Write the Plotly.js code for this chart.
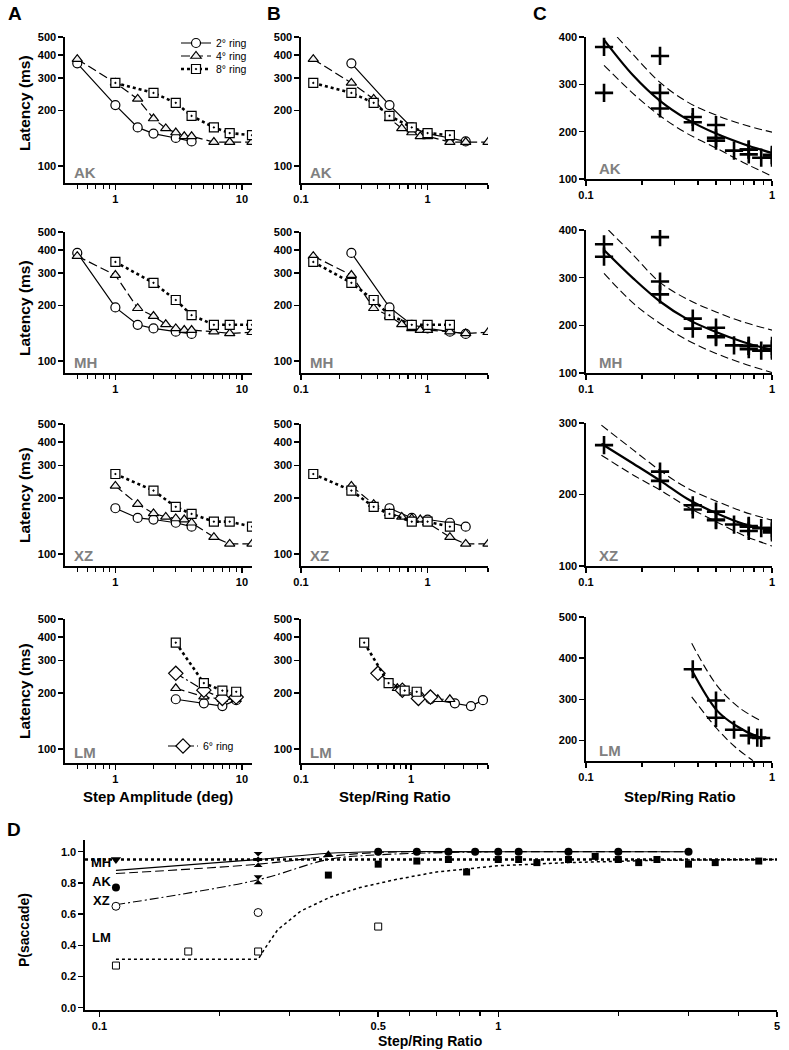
<!DOCTYPE html>
<html>
<head>
<meta charset="utf-8">
<script src="https://cdn.plot.ly/plotly-3.0.1.min.js"></script>
<style>
  body { margin: 0; background: #fff; }
  #plot { width: 789px; height: 1050px; }
</style>
</head>
<body>
<div id="plot"></div>
<script>
// ---- values ----
// latency (ms) against step amplitude (deg), one pair of arrays per ring size
const ak_amp2 = [0.5, 1, 1.5, 2, 3, 4];
const ak_lat2 = [360, 214, 162, 150, 142, 136];
const ak_amp4 = [0.5, 1, 1.5, 2, 2.5, 3, 3.5, 4, 6, 8, 12];
const ak_lat4 = [379, 282, 231, 181, 160, 152, 145, 145, 135, 135, 135];
const ak_amp8 = [1, 2, 3, 4, 6, 8, 12];
const ak_lat8 = [282, 249, 220, 187, 162, 151, 147];

const mh_amp2 = [0.5, 1, 1.5, 2, 3, 4];
const mh_lat2 = [385, 195, 157, 150, 144, 140];
const mh_amp4 = [0.5, 1, 1.5, 2, 2.5, 3, 3.5, 4, 6, 8, 12];
const mh_lat4 = [370, 292, 193, 175, 158, 150, 147, 147, 144, 141, 143];
const mh_amp8 = [1, 2, 3, 4, 6, 8, 12];
const mh_lat8 = [344, 265, 214, 177, 157, 157, 157];

const xz_amp2 = [1, 1.5, 2, 3, 4];
const xz_lat2 = [176, 156, 153, 147, 140];
const xz_amp4 = [1, 1.5, 2, 2.5, 3, 3.5, 4, 6, 8, 12];
const xz_lat4 = [232, 185, 165, 158, 155, 153, 147, 123, 113, 113];
const xz_amp8 = [1, 2, 3, 4, 6, 8, 12];
const xz_lat8 = [269, 219, 179, 164, 149, 149, 140];

const lm_amp = [3, 5, 7, 9];
const lm_lat2 = [185, 176, 170, 183];
const lm_lat4 = [212, 191, 185, 185];
const lm_lat6 = [255, 207, 187, 190];
const lm_lat8 = [373, 226, 206, 203];
// one more LM point that only shows in panel C
const lm_extra_r = [0.5];
const lm_extra_lat = [297];

// panel C: fitted curve and dashed bounds (step/ring ratio, latency)
const ak_fit_r = [0.125, 0.18, 0.25, 0.35, 0.5, 0.7, 1];
const ak_fit = [394, 318, 265, 226, 196, 174, 155];
const ak_hi_r = [0.147, 0.18, 0.25, 0.35, 0.5, 0.7, 1];
const ak_hi = [400, 362, 304, 263, 235, 215, 199];
const ak_lo_r = [0.125, 0.187, 0.255, 0.35, 0.51, 0.7, 1];
const ak_lo = [340, 274, 231, 196, 164, 135, 106];

const mh_fit_r = [0.125, 0.18, 0.25, 0.35, 0.5, 0.7, 1];
const mh_fit = [358, 298, 250, 213, 186, 165, 148];
const mh_hi_r = [0.132, 0.18, 0.25, 0.35, 0.5, 0.7, 1];
const mh_hi = [400, 347, 290, 255, 228, 207, 190];
const mh_lo_r = [0.125, 0.18, 0.25, 0.35, 0.5, 0.7, 1];
const mh_lo = [309, 246, 204, 169, 141, 120, 101];

const xz_fit_r = [0.121, 0.18, 0.255, 0.35, 0.51, 0.7, 1];
const xz_fit = [271, 243, 218, 194, 173, 159, 150];
const xz_hi = [297, 262, 232, 209, 190, 176, 164];
const xz_lo = [255, 227, 205, 183, 161, 143, 128];

const lm_fit_r = [0.37, 0.505, 0.634, 0.847, 0.92];
const lm_fit = [371, 273, 237, 208, 204];
const lm_hi_r = [0.37, 0.505, 0.66, 0.86];
const lm_hi = [436, 334, 281, 249];
const lm_lo_r = [0.37, 0.505, 0.634, 0.79];
const lm_lo = [306, 229, 184, 151];

// panel D: P(saccade) against step/ring ratio
const d_tridown_r = [0.11];
const d_tridown_p = [0.95];
const d_triup_r = [0.375];
const d_triup_p = [0.98];
const d_hour_r = [0.25, 0.25, 0.25];
const d_hour_p = [0.97, 0.93, 0.82];
const d_fcirc_r = [0.11, 0.5, 0.625, 0.75, 0.875, 1, 1.125, 1.5, 2, 3];
const d_fcirc_p = [0.77, 1, 1, 1, 1, 1, 1, 1, 1, 1];
const d_ocirc_r = [0.11, 0.25];
const d_ocirc_p = [0.65, 0.61];
const d_osq_r = [0.11, 0.167, 0.25, 0.5];
const d_osq_p = [0.27, 0.36, 0.36, 0.52];
const d_fsq_r = [0.375, 0.5, 0.625, 0.75, 0.833, 1, 1.125, 1.25, 1.5, 1.75, 2, 2.25, 2.5, 3, 3.5, 4.5];
const d_fsq_p = [0.85, 0.92, 0.94, 0.95, 0.87, 0.95, 0.95, 0.93, 0.95, 0.97, 0.95, 0.93, 0.95, 0.92, 0.93, 0.94];

const d_solid_r = [0.11, 0.25, 0.375, 0.5, 1, 3];
const d_solid_p = [0.88, 0.95, 0.99, 1.0, 1.0, 1.0];
const d_dash_r = [0.11, 0.25, 0.375, 0.5, 1, 3];
const d_dash_p = [0.86, 0.92, 0.97, 0.995, 1.0, 1.0];
const d_dashdot_r = [0.11, 0.25, 0.375, 0.5, 1];
const d_dashdot_p = [0.66, 0.82, 0.95, 0.98, 1.0];
const d_dot_r = [0.11, 0.25, 0.26, 0.28, 0.32, 0.38, 0.45, 0.55, 0.7, 1, 1.5, 2.5, 5];
const d_dot_p = [0.31, 0.31, 0.38, 0.5, 0.62, 0.71, 0.77, 0.82, 0.87, 0.91, 0.93, 0.945, 0.95];
const chance_level = 0.95;

const subject_names = ["AK", "MH", "XZ", "LM"];

// ---- layout geometry (pixels) ----
const W = 789, H = 1050;
const FONT = "Liberation Sans, Arial, sans-serif";
const COL_A = [65, 252], COL_B = [301, 488], COL_C = [586, 772];
const ROWS_AB = [[37, 183], [232, 373], [424, 566], [619, 763]];
const ROWS_C = [[37, 179], [230, 373], [423, 566], [617, 761]];
const AB_LOW = [81, 86, 86, 84];
const C_RANGES = [[100, 400], [100, 400], [100, 300], [150, 500]];
const C_TICKS = [[100, 200, 300, 400], [100, 200, 300, 400], [100, 200, 300], [200, 300, 400, 500]];

const xdom = p => [p[0] / W, p[1] / W];
const ydom = p => [1 - p[1] / H, 1 - p[0] / H];
const sfx = i => (i === 1 ? "" : String(i));

const subjects = [
    { rings: [[2, ak_amp2, ak_lat2], [4, ak_amp4, ak_lat4], [8, ak_amp8, ak_lat8]],
      fit: [ak_fit_r, ak_fit], hi: [ak_hi_r, ak_hi], lo: [ak_lo_r, ak_lo], extra: [[], []] },
    { rings: [[2, mh_amp2, mh_lat2], [4, mh_amp4, mh_lat4], [8, mh_amp8, mh_lat8]],
      fit: [mh_fit_r, mh_fit], hi: [mh_hi_r, mh_hi], lo: [mh_lo_r, mh_lo], extra: [[], []] },
    { rings: [[2, xz_amp2, xz_lat2], [4, xz_amp4, xz_lat4], [8, xz_amp8, xz_lat8]],
      fit: [xz_fit_r, xz_fit], hi: [xz_fit_r, xz_hi], lo: [xz_fit_r, xz_lo], extra: [[], []] },
    { rings: [[2, lm_amp, lm_lat2], [4, lm_amp, lm_lat4], [6, lm_amp, lm_lat6], [8, lm_amp, lm_lat8]],
      fit: [lm_fit_r, lm_fit], hi: [lm_hi_r, lm_hi], lo: [lm_lo_r, lm_lo], extra: [lm_extra_r, lm_extra_lat] }
];

const ringStyle = {
    2: { line: { color: "#000", width: 1.2 },
         marker: { symbol: "circle", size: 9, color: "#fff", line: { color: "#000", width: 1.2 } } },
    4: { line: { color: "#000", width: 1.2, dash: "9px,4px" },
         marker: { symbol: "triangle-up", size: 9, color: "#f2f2f2", line: { color: "#000", width: 1.2 } } },
    6: { line: { color: "#000", width: 1.2, dash: "9px,3px,2px,3px" },
         marker: { symbol: "diamond", size: 11, color: "#fff", line: { color: "#000", width: 1.2 } } },
    8: { line: { color: "#000", width: 2.6, dash: "dot" },
         marker: { symbol: "square-dot", size: 9, color: "#fff", line: { color: "#000", width: 1.2 } } }
};
// each legend entry gets its own small legend so the rows sit as close as in the figure
const ringLegend = { 2: "legend", 4: "legend3", 8: "legend4", 6: "legend2" };

const crossMarker = { symbol: "cross-thin", size: 13, line: { color: "#000", width: 2.6 } };

const legendAt = (px, py) => ({ x: px / W, y: 1 - py / H, xanchor: "left", yanchor: "middle",
    font: { family: FONT, size: 10.5, color: "#000" }, bgcolor: "rgba(0,0,0,0)", borderwidth: 0 });

let data = [];
let layout = {
    width: W, height: H,
    margin: { l: 0, r: 0, t: 0, b: 0 },
    paper_bgcolor: "#fff", plot_bgcolor: "rgba(0,0,0,0)",
    font: { family: FONT, color: "#000" },
    showlegend: true,
    legend: legendAt(176, 43),
    legend3: legendAt(176, 56),
    legend4: legendAt(176, 69),
    legend2: legendAt(163, 746),
    annotations: [],
    shapes: []
};

const axisBase = () => ({
    showline: true, linecolor: "#000", linewidth: 1.6,
    ticks: "outside", ticklen: 5, tickwidth: 1.4, tickcolor: "#000",
    showgrid: false, zeroline: false, fixedrange: true,
    tickfont: { family: FONT, size: 11, color: "#000", weight: "bold" }
});
const minorTicks = vals => ({ tickmode: "array", tickvals: vals, ticks: "outside", ticklen: 4, tickwidth: 1.2, tickcolor: "#000" });

const logX = (dom, lo, hi, major, labels, minor) => Object.assign(axisBase(), {
    type: "log", domain: dom, range: [Math.log10(lo), Math.log10(hi)],
    tickmode: "array", tickvals: major, ticktext: labels, minor: minorTicks(minor)
});

subjects.forEach((s, row) => {
    const ia = row * 3 + 1, ib = ia + 1, ic = ia + 2;
    const cx = s.extra[0].slice(), cy = s.extra[1].slice();

    s.rings.forEach(([ring, amp, lat]) => {
        const st = ringStyle[ring];
        const ratio = amp.map(a => a / ring);
        const inLegend = (row === 0 && ring !== 6) || ring === 6;
        data.push({
            x: amp, y: lat, xaxis: "x" + sfx(ia), yaxis: "y" + sfx(ia),
            mode: "lines+markers", name: ring + "° ring", line: st.line, marker: st.marker,
            showlegend: inLegend, legend: ringLegend[ring], hoverinfo: "skip"
        });
        data.push({
            x: ratio, y: lat, xaxis: "x" + sfx(ib), yaxis: "y" + sfx(ib),
            mode: "lines+markers", line: st.line, marker: st.marker, showlegend: false, hoverinfo: "skip"
        });
        ratio.forEach((r, i) => { if (r <= 1) { cx.push(r); cy.push(lat[i]); } });
    });

    [[s.hi, { color: "#000", width: 1.1, dash: "8px,4px" }],
     [s.lo, { color: "#000", width: 1.1, dash: "8px,4px" }],
     [s.fit, { color: "#000", width: 2.2 }]].forEach(([c, ln]) => {
        data.push({ x: c[0], y: c[1], xaxis: "x" + sfx(ic), yaxis: "y" + sfx(ic), mode: "lines",
                    line: Object.assign({ shape: "spline", smoothing: 1 }, ln), showlegend: false, hoverinfo: "skip" });
    });
    data.push({ x: cx, y: cy, xaxis: "x" + sfx(ic), yaxis: "y" + sfx(ic), mode: "markers",
                marker: crossMarker, showlegend: false, hoverinfo: "skip" });

    // axes
    const abY = Object.assign(axisBase(), {
        type: "log", range: [Math.log10(AB_LOW[row]), Math.log10(500)],
        tickmode: "array", tickvals: [100, 200, 300, 400, 500], ticktext: ["100", "200", "300", "400", "500"]
    });
    layout["xaxis" + sfx(ia)] = logX(xdom(COL_A), 0.4, 12, [1, 10], ["1", "10"],
        [0.5, 0.6, 0.7, 0.8, 0.9, 2, 3, 4, 5, 6, 7, 8, 9]);
    layout["xaxis" + sfx(ia)].anchor = "y" + sfx(ia);
    layout["yaxis" + sfx(ia)] = Object.assign({}, abY, { domain: ydom(ROWS_AB[row]), anchor: "x" + sfx(ia) });

    const bHi = row === 3 ? 5 : 3;
    const bMinor = [0.2, 0.3, 0.4, 0.5, 0.6, 0.7, 0.8, 0.9, 2, 3].concat(row === 3 ? [4, 5] : []);
    layout["xaxis" + sfx(ib)] = logX(xdom(COL_B), 0.1, bHi, [0.1, 1], ["0.1", "1"], bMinor);
    layout["xaxis" + sfx(ib)].anchor = "y" + sfx(ib);
    layout["yaxis" + sfx(ib)] = Object.assign({}, abY, { domain: ydom(ROWS_AB[row]), anchor: "x" + sfx(ib) });

    layout["xaxis" + sfx(ic)] = logX(xdom(COL_C), 0.1, 1, [0.1, 1], ["0.1", "1"],
        [0.2, 0.3, 0.4, 0.5, 0.6, 0.7, 0.8, 0.9]);
    layout["xaxis" + sfx(ic)].anchor = "y" + sfx(ic);
    layout["yaxis" + sfx(ic)] = Object.assign(axisBase(), {
        domain: ydom(ROWS_C[row]), range: C_RANGES[row], anchor: "x" + sfx(ic),
        tickmode: "array", tickvals: C_TICKS[row]
    });

    // grey subject labels
    [[COL_A[0] + 7, ROWS_AB[row][1]], [COL_B[0] + 7, ROWS_AB[row][1]], [COL_C[0] + 11, ROWS_C[row][1]]].forEach(([px, py]) => {
        layout.annotations.push({ xref: "paper", yref: "paper", x: px / W, y: 1 - (py - 11) / H,
            xanchor: "left", yanchor: "middle", showarrow: false, text: subject_names[row],
            font: { family: FONT, size: 15, color: "#808080", weight: "bold" } });
    });
});

// ---- panel D ----
const D = 13;
const dtr = (x, y, mk) => Object.assign({ x: x, y: y, xaxis: "x" + D, yaxis: "y" + D,
    showlegend: false, hoverinfo: "skip" }, mk);
data.push(dtr(d_dot_r, d_dot_p, { mode: "lines", line: { color: "#000", width: 1.5, dash: "dot" } }));
data.push(dtr(d_dashdot_r, d_dashdot_p, { mode: "lines", line: { color: "#000", width: 1.1, dash: "9px,3px,2px,3px", shape: "spline" } }));
data.push(dtr(d_dash_r, d_dash_p, { mode: "lines", line: { color: "#000", width: 1.1, dash: "9px,4px", shape: "spline" } }));
data.push(dtr(d_solid_r, d_solid_p, { mode: "lines", line: { color: "#000", width: 1.1, shape: "spline" } }));
data.push(dtr(d_fsq_r, d_fsq_p, { mode: "markers", marker: { symbol: "square", size: 7, color: "#000" } }));
data.push(dtr(d_fcirc_r, d_fcirc_p, { mode: "markers", marker: { symbol: "circle", size: 8, color: "#000" } }));
data.push(dtr(d_ocirc_r, d_ocirc_p, { mode: "markers", marker: { symbol: "circle", size: 8, color: "#fff", line: { color: "#000", width: 1 } } }));
data.push(dtr(d_osq_r, d_osq_p, { mode: "markers", marker: { symbol: "square", size: 7, color: "#fff", line: { color: "#000", width: 1 } } }));
data.push(dtr(d_tridown_r, d_tridown_p, { mode: "markers", marker: { symbol: "triangle-down", size: 9, color: "#000" } }));
data.push(dtr(d_triup_r, d_triup_p, { mode: "markers", marker: { symbol: "triangle-up", size: 9, color: "#000" } }));
data.push(dtr(d_hour_r, d_hour_p, { mode: "markers", marker: { symbol: "hourglass", size: 9, color: "#000" } }));

layout["xaxis" + D] = logX(xdom([85, 777]), 0.092, 5, [0.1, 0.5, 1, 5], ["0.1", "0.5", "1", "5"],
    [0.2, 0.3, 0.4, 0.6, 0.7, 0.8, 0.9, 2, 3, 4]);
layout["xaxis" + D].anchor = "y" + D;
layout["yaxis" + D] = Object.assign(axisBase(), {
    domain: ydom([840, 1010]), range: [-0.015, 1.075], anchor: "x" + D,
    tickmode: "array", tickvals: [0, 0.2, 0.4, 0.6, 0.8, 1.0], tickformat: ".1f"
});
layout.shapes.push({ type: "line", xref: "x" + D + " domain", yref: "y" + D, x0: 0, x1: 1,
    y0: chance_level, y1: chance_level, line: { color: "#000", width: 2.6, dash: "dot" } });

// ---- titles and labels ----
const note = (px, py, text, size, extra) => Object.assign({ xref: "paper", yref: "paper", x: px / W, y: 1 - py / H,
    text: text, showarrow: false, xanchor: "center", yanchor: "middle",
    font: { family: FONT, size: size, color: "#000", weight: "bold" } }, extra || {});

layout.annotations.push(note(15, 14, "A", 19), note(274, 13, "B", 19), note(540, 14, "C", 19), note(14, 829, "D", 19));
[103, 308, 495, 691].forEach(py => layout.annotations.push(note(24, py, "Latency (ms)", 15.5, { textangle: -90 })));
layout.annotations.push(note(24, 930, "P(saccade)", 14, { textangle: -90 }));
layout.annotations.push(note(158, 796, "Step Amplitude (deg)", 15), note(395, 796, "Step/Ring Ratio", 15),
    note(680, 796, "Step/Ring Ratio", 15), note(430, 1041, "Step/Ring Ratio", 14));
[["MH", 862], ["AK", 881], ["XZ", 900], ["LM", 937]].forEach(([t, py]) =>
    layout.annotations.push(note(101, py, t, 13)));

let config = { staticPlot: true };

window.addEventListener("load", () => {
    Plotly.newPlot("plot", data, layout, config);
});
</script>
</body>
</html>
